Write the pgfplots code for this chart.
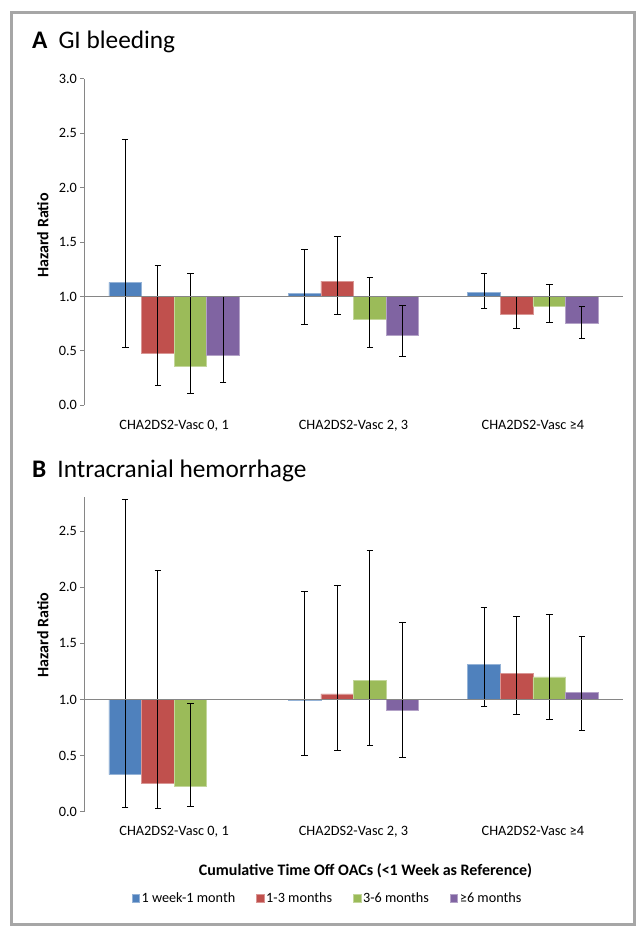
\documentclass[border=0pt]{standalone}
\usepackage{pgfplots}
\usepackage{pgfplotstable}
\pgfplotsset{compat=1.18}
\usepackage{fontspec}
\setmainfont{Carlito}

\definecolor{cblue}{HTML}{4F81BD}
\definecolor{cred}{HTML}{C0504D}
\definecolor{cgreen}{HTML}{9BBB59}
\definecolor{cpurple}{HTML}{8064A2}
\definecolor{framegray}{HTML}{A6A6A6}
\definecolor{axgray}{HTML}{868686}

% hazard ratio with lower / upper limit, per group (0,1 | 2,3 | >=4)
\pgfplotstableread{
x b bl bh r rl rh g gl gh p pl ph
0 1.13 0.53 2.44 0.48 0.18 1.28 0.36 0.11 1.21 0.46 0.21 1.00
1 1.03 0.74 1.43 1.14 0.83 1.55 0.79 0.53 1.17 0.64 0.45 0.92
2 1.04 0.89 1.21 0.84 0.71 1.00 0.91 0.76 1.11 0.75 0.61 0.91
}\gib
\pgfplotstableread{
x b bl bh r rl rh g gl gh
0 0.33 0.04 2.78 0.25 0.03 2.15 0.23 0.05 0.96
1 0.99 0.50 1.96 1.05 0.55 2.02 1.17 0.59 2.33
2 1.31 0.94 1.82 1.23 0.87 1.74 1.20 0.82 1.76
}\ich
% no >=6 months bar in the lowest group
\pgfplotstableread{
x p pl ph
1 0.90 0.48 1.69
2 1.06 0.72 1.56
}\ichp

\pgfplotsset{
  hrpanel/.style={
    scale only axis, width=538.2pt,
    ybar=0pt, bar width=32.6pt,
    xmin=-0.5, xmax=2.5, ymin=-1,
    enlargelimits=false, clip=false,
    axis lines*=left,
    x axis line style={draw=none},
    y axis line style={-, axgray, line width=0.8pt},
    xtick={0,1,2},
    xticklabels={{CHA2DS2-Vasc 0, 1},{CHA2DS2-Vasc 2, 3},{CHA2DS2-Vasc ≥4}},
    xtick style={draw=none},
    ytick style={axgray, line width=0.8pt},
    tick align=outside, major tick length=4pt,
    tick label style={font=\fontsize{14.3}{16}\selectfont},
    xticklabel style={yshift=-7pt},
    ylabel={Hazard Ratio},
    ylabel style={font=\bfseries\fontsize{16}{18}\selectfont},
    error bars/y dir=both, error bars/y explicit,
    error bars/error bar style={black, line width=0.9pt},
    error bars/error mark options={rotate=90, black, line width=0.9pt, mark size=3.3pt},
  },
  bb/.style={fill=cblue, draw=cblue!60!white, line width=0.5pt},
  br/.style={fill=cred, draw=cred!60!white, line width=0.5pt},
  bg/.style={fill=cgreen, draw=cgreen!60!white, line width=0.5pt},
  bp/.style={fill=cpurple, draw=cpurple!60!white, line width=0.5pt},
}

\begin{document}
\begin{tikzpicture}
\useasboundingbox (0,0) rectangle (639pt,926pt);
\fill[white] (0,0) rectangle (639pt,926pt);
\draw[framegray, line width=3pt] (11pt,1.5pt) rectangle (634pt,913.5pt);

\node[anchor=base west, font=\fontsize{25.3}{29}\selectfont, inner sep=0pt]
  at (32pt,877pt) {\textbf{A}\hspace{11pt}GI bleeding};
\node[anchor=base west, font=\fontsize{25.3}{29}\selectfont, inner sep=0pt]
  at (32pt,448pt) {\textbf{B}\hspace{11pt}Intracranial hemorrhage};

\begin{axis}[hrpanel, at={(84.4pt,520.7pt)}, anchor=south west,
  height=326.6pt, ymax=2,
  ytick={-1,-0.5,0,0.5,1,1.5,2},
  yticklabels={0.0,0.5,1.0,1.5,2.0,2.5,3.0},
  ylabel style={at={(axis description cs:-0.0773,0.52)}, anchor=center}]
\addplot[bb] table[x=x, y expr=\thisrow{b}-1,
  y error plus expr=\thisrow{bh}-\thisrow{b}, y error minus expr=\thisrow{b}-\thisrow{bl}] {\gib};
\addplot[br] table[x=x, y expr=\thisrow{r}-1,
  y error plus expr=\thisrow{rh}-\thisrow{r}, y error minus expr=\thisrow{r}-\thisrow{rl}] {\gib};
\addplot[bg] table[x=x, y expr=\thisrow{g}-1,
  y error plus expr=\thisrow{gh}-\thisrow{g}, y error minus expr=\thisrow{g}-\thisrow{gl}] {\gib};
\addplot[bp] table[x=x, y expr=\thisrow{p}-1,
  y error plus expr=\thisrow{ph}-\thisrow{p}, y error minus expr=\thisrow{p}-\thisrow{pl}] {\gib};
\draw[axgray, line width=0.8pt] (axis cs:-0.5,0) -- (axis cs:2.5,0);
\end{axis}

\begin{axis}[hrpanel, at={(84.4pt,114.3pt)}, anchor=south west,
  height=314.3pt, ymax=1.8,
  ytick={-1,-0.5,0,0.5,1,1.5},
  yticklabels={0.0,0.5,1.0,1.5,2.0,2.5},
  ylabel style={at={(axis description cs:-0.0773,0.562)}, anchor=center},
  xlabel={Cumulative Time Off OACs (<1 Week as Reference)},
  xlabel style={font=\bfseries\fontsize{16}{18}\selectfont,
    at={(axis description cs:0.5223,-0.1877)}, anchor=center},
  legend columns=4,
  legend style={draw=none, fill=none, at={(0.4517,-0.2755)}, anchor=center,
    font=\fontsize{14.2}{16}\selectfont,
    /tikz/every even column/.append style={column sep=19pt}},
  legend image code/.code={\fill[#1] (0pt,-3.7pt) rectangle (7.5pt,3.7pt);}]
\addplot[bb] table[x=x, y expr=\thisrow{b}-1,
  y error plus expr=\thisrow{bh}-\thisrow{b}, y error minus expr=\thisrow{b}-\thisrow{bl}] {\ich};
\addplot[br] table[x=x, y expr=\thisrow{r}-1,
  y error plus expr=\thisrow{rh}-\thisrow{r}, y error minus expr=\thisrow{r}-\thisrow{rl}] {\ich};
\addplot[bg] table[x=x, y expr=\thisrow{g}-1,
  y error plus expr=\thisrow{gh}-\thisrow{g}, y error minus expr=\thisrow{g}-\thisrow{gl}] {\ich};
\addplot[bp] table[x=x, y expr=\thisrow{p}-1,
  y error plus expr=\thisrow{ph}-\thisrow{p}, y error minus expr=\thisrow{p}-\thisrow{pl}] {\ichp};
\draw[axgray, line width=0.8pt] (axis cs:-0.5,0) -- (axis cs:2.5,0);
\legend{1 week-1 month, 1-3 months, 3-6 months, ≥6 months}
\end{axis}
\end{tikzpicture}
\end{document}
